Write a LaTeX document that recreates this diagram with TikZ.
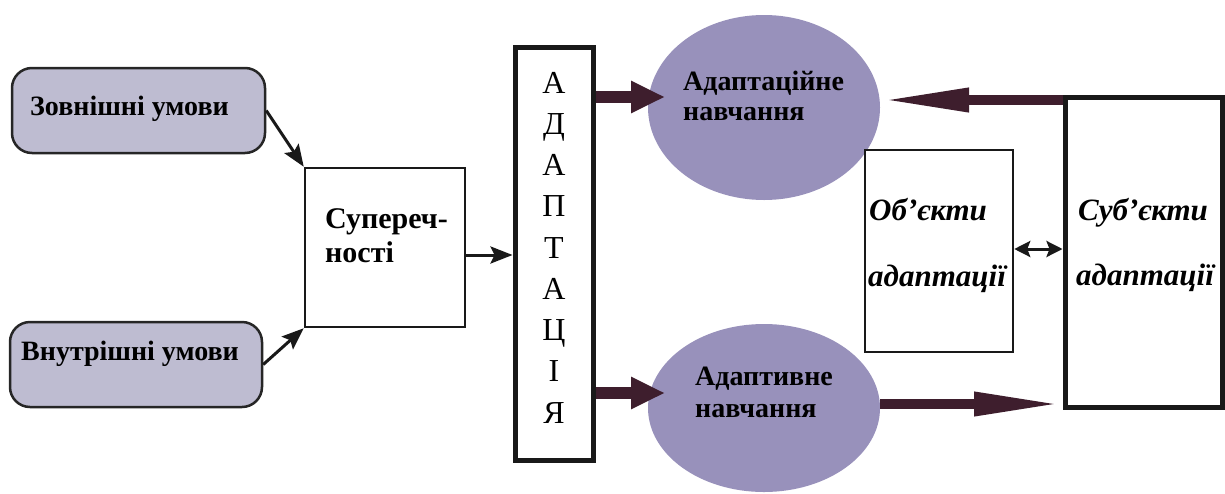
\documentclass[tikz,border=0pt]{standalone}
\usepackage{fontspec}
\setmainfont{Liberation Serif}
\usetikzlibrary{arrows.meta,shapes.geometric}
\definecolor{boxfill}{RGB}{190,188,209}
\definecolor{ellfill}{RGB}{152,145,187}
\definecolor{maroon}{RGB}{62,30,45}
\tikzset{
  roundbox/.style={draw=black!85,line width=2.5pt,fill=boxfill,rounded corners=20pt,inner sep=0pt},
  plainbox/.style={draw=black!90,line width=2.5pt,fill=white,inner sep=0pt},
  heavybox/.style={draw=black!90,line width=5pt,fill=white,inner sep=0pt},
  blob/.style={ellipse,fill=ellfill,draw=none,inner sep=0pt},
  thinarrow/.style={draw=black!90,line width=3pt,-{Stealth[length=22pt,width=17pt,inset=4pt]}},
  twoarrow/.style={draw=black!90,line width=3pt,{Stealth[length=16pt,width=16pt,inset=3pt]}-{Stealth[length=16pt,width=16pt,inset=3pt]}},
  shortfat/.style={draw=maroon,line width=12pt,-{Triangle[length=34pt,width=30pt]}},
  longfat/.style={draw=maroon,line width=10pt,-{Triangle[length=88pt,width=22pt]}},
  lbl/.style={font=\fontsize{28}{32}\selectfont\bfseries,anchor=base west,inner sep=0pt},
  itl/.style={font=\fontsize{31}{36}\selectfont\bfseries\itshape,anchor=base west,inner sep=0pt},
  letter/.style={font=\fontsize{32}{36}\selectfont,anchor=base,inner sep=0pt},
}
\begin{document}
\begin{tikzpicture}[x=1pt,y=-1pt]
\useasboundingbox (0,0) rectangle (1225,493);
% boxes
\node[roundbox,minimum width=253pt,minimum height=85pt] (z) at (138.5,110.5) {};
\node[roundbox,minimum width=252pt,minimum height=85pt] (v) at (136,364.5) {};
\node[plainbox,minimum width=160pt,minimum height=159pt] (s) at (385,247.5) {};
\node[heavybox,minimum width=78pt,minimum height=413pt] (a) at (554,253.5) {};
\node[blob,minimum width=232pt,minimum height=185pt] (e1) at (764,107.5) {};
\node[blob,minimum width=232pt,minimum height=168pt] (e2) at (764,408) {};
\node[plainbox,minimum width=148pt,minimum height=202pt] (o) at (939,251) {};
\node[heavybox,minimum width=157pt,minimum height=310pt] (sb) at (1143.5,252) {};
% texts
\node[lbl] (zt) at (30,115) {Зовнішні умови};
\node[lbl] (vt) at (21,360) {Внутрішні умови};
\node[lbl,font=\fontsize{30}{34}\selectfont\bfseries] (st1) at (325,228) {Супереч-};
\node[lbl,font=\fontsize{30}{34}\selectfont\bfseries] (st2) at (325,262) {ності};
\foreach \ch [count=\i from 0] in {А,Д,А,П,Т,А,Ц,І,Я}
  \node[letter] (at\i) at (554,93+41.25*\i) {\ch};
\node[lbl] (e1t1) at (683,90) {Адаптаційне};
\node[lbl] (e1t2) at (683,120) {навчання};
\node[lbl] (e2t1) at (695,385) {Адаптивне};
\node[lbl] (e2t2) at (695,417) {навчання};
\node[itl] (ot1) at (869,220) {Об’єкти};
\node[itl] (ot2) at (868,286) {адаптації};
\node[itl] (sbt1) at (1078,220) {Суб’єкти};
\node[itl] (sbt2) at (1076,285) {адаптації};
% coordinates for free ends
\coordinate (a1) at (665,97);
\coordinate (a2) at (665,393);
\coordinate (a3) at (881,100);
\coordinate (a4) at (1062,404);
% connectors
\draw[thinarrow] (z.east) -- (s.north west);
\draw[thinarrow] (v.east) -- (s.south west);
\draw[thinarrow] (s.east |- 0,255) -- (a.west |- 0,255);
\draw[shortfat] (a.east |- a1) -- (a1);
\draw[shortfat] (a.east |- a2) -- (a2);
\draw[longfat] (sb.west |- a3) -- (a3);
\draw[longfat] (e2.east |- a4) -- (a4);
\draw[twoarrow] (o.east |- 0,249) -- (sb.west |- 0,249);
\end{tikzpicture}
\end{document}
